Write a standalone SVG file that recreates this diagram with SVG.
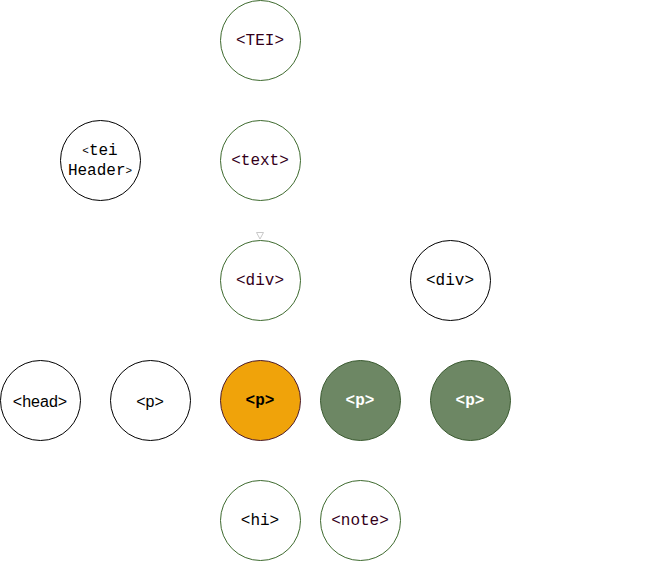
<svg xmlns="http://www.w3.org/2000/svg" width="651" height="561" viewBox="0 0 651 561">
<style>
.c{fill:#fff;stroke-width:1}
.g{stroke:#3e6a2e}
.k{stroke:#000}
.t{font-family:"Liberation Mono","DejaVu Sans Mono",monospace;font-size:16px;text-anchor:middle;dominant-baseline:central}
.s{font-family:"Liberation Sans",Arial,sans-serif;font-size:16px;text-anchor:middle;dominant-baseline:central}
.m{fill:#33001a}
.b{fill:#000}
</style>
<rect width="651" height="561" fill="#fff"/>
<g id="connectors">
<path d="M256.5,232.5 L263.5,232.5 L260,239 Z" fill="none" stroke="#c8c8c8" stroke-width="1"/>
</g>
<g id="tei"><circle class="c g" cx="260.5" cy="40.5" r="40"/><text class="t m" x="260" y="41">&lt;TEI&gt;</text></g>
<g id="text"><circle class="c g" cx="260.5" cy="160.5" r="40"/><text class="t m" x="260" y="161">&lt;text&gt;</text></g>
<g id="teiHeader"><circle class="c k" cx="100.5" cy="160.5" r="40"/>
<text class="t b" x="100" y="151"><tspan font-size="11">&lt;</tspan>tei</text>
<text class="t b" x="100" y="171">Header<tspan font-size="11">&gt;</tspan></text></g>
<g id="div1"><circle class="c g" cx="260.5" cy="280.5" r="40"/><text class="t m" x="260" y="281">&lt;div&gt;</text></g>
<g id="div2"><circle class="c k" cx="450.5" cy="280.5" r="40"/><text class="t b" x="450" y="281">&lt;div&gt;</text></g>
<g id="head"><circle class="c k" cx="40.5" cy="400.5" r="40"/><text class="s b" x="40" y="401">&lt;head&gt;</text></g>
<g id="p1"><circle class="c k" cx="150.5" cy="400.5" r="40"/><text class="s b" x="150" y="401">&lt;p&gt;</text></g>
<g id="p2"><circle cx="260.5" cy="400.5" r="40" fill="#f0a30a" stroke="#4a1a2a"/><text class="t b" x="260" y="401" font-weight="bold">&lt;p&gt;</text></g>
<g id="p3"><circle cx="360.5" cy="400.5" r="40" fill="#6d8764" stroke="#3a5a30"/><text class="t" x="360" y="401" font-weight="bold" fill="#fff">&lt;p&gt;</text></g>
<g id="p4"><circle cx="470.5" cy="400.5" r="40" fill="#6d8764" stroke="#3a5a30"/><text class="t" x="470" y="401" font-weight="bold" fill="#fff">&lt;p&gt;</text></g>
<g id="hi"><circle class="c g" cx="260.5" cy="520.5" r="40"/><text class="t b" x="260" y="521">&lt;hi&gt;</text></g>
<g id="note"><circle class="c g" cx="360.5" cy="520.5" r="40"/><text class="t m" x="360" y="521">&lt;note&gt;</text></g>
</svg>
